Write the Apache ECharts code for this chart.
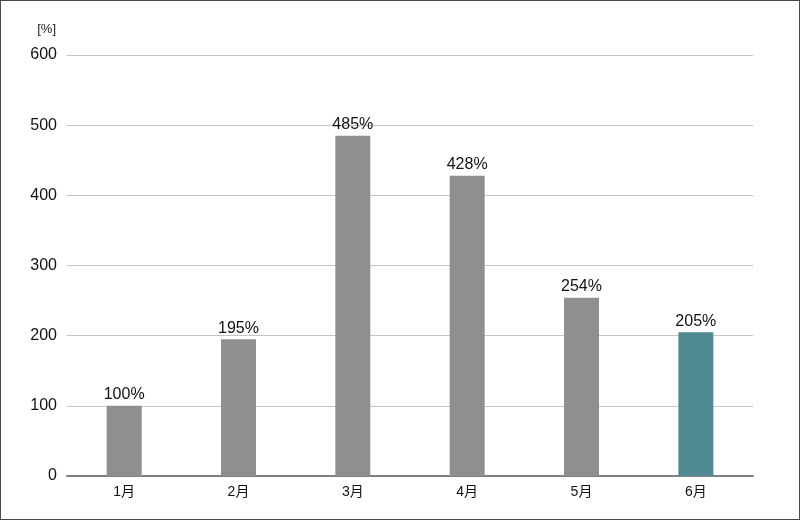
<!DOCTYPE html>
<html>
<head>
<meta charset="utf-8">
<script src="https://cdn.jsdelivr.net/npm/echarts@6/dist/echarts.min.js"></script>
<style>
  html, body { margin: 0; padding: 0; background: #fff; }
  #chart { width: 800px; height: 520px; box-sizing: border-box; border: 1px solid #4a4a4a; }
</style>
</head>
<body>
<div id="chart"></div>
<script>
// 月別の推移
var months = ['1月', '2月', '3月', '4月', '5月', '6月'];
var rates = [100, 195, 485, 428, 254, 205];
var yTicks = [0, 100, 200, 300, 400, 500, 600];

var barGray = '#8f8f8f';
var barHighlight = '#508a93';

var myChart = echarts.init(document.getElementById('chart'));

var barData = [];
for (let i = 0; i < rates.length; i++) {
    barData.push({
        value: rates[i],
        itemStyle: { color: i == rates.length - 1 ? barHighlight : barGray }
    });
}

var option = {
    animation: false,
    textStyle: { fontFamily: 'Liberation Sans, Arial, sans-serif' },
    grid: { left: 66, right: 46, top: 54, bottom: 43 },
    xAxis: {
        type: 'category',
        data: months,
        axisTick: { show: false },
        axisLine: { lineStyle: { color: '#808080', width: 2 } },
        axisLabel: { color: '#111', fontSize: 14, margin: 9, fontFamily: 'Liberation Sans, "Noto Sans CJK JP", sans-serif' }
    },
    yAxis: {
        type: 'value',
        min: yTicks[0],
        max: yTicks[yTicks.length - 1],
        interval: yTicks[1] - yTicks[0],
        name: '[%]',
        nameLocation: 'end',
        nameGap: 19,
        nameTextStyle: { color: '#222', fontSize: 13, align: 'right', padding: [0, 11, 0, 0] },
        axisLine: { show: false },
        axisTick: { show: false },
        axisLabel: { color: '#111', fontSize: 16, margin: 10 },
        splitLine: { lineStyle: { color: '#c4c4c4', width: 1 } }
    },
    series: [{
        type: 'bar',
        data: barData,
        barWidth: 35,
        label: {
            show: true,
            position: 'top',
            distance: 3,
            formatter: '{c}%',
            color: '#111',
            fontSize: 16
        }
    }]
};
myChart.setOption(option);
</script>
</body>
</html>
